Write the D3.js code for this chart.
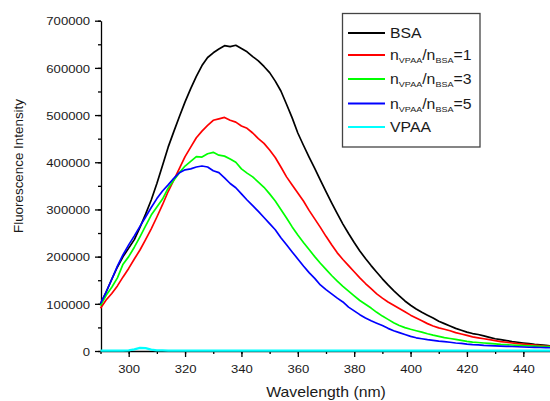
<!DOCTYPE html>
<html>
<head>
<meta charset="utf-8">
<script src="https://cdn.jsdelivr.net/npm/d3@7"></script>
<style>
  body { margin: 0; background: #fff; }
  svg { display: block; font-family: "Liberation Sans", Arial, sans-serif; }
  .axis path, .axis line { stroke: #000; stroke-width: 1.3; }
  .axis text { fill: #1a1a1a; font-size: 11.6px; }
</style>
</head>
<body>
<div id="chart"></div>
<script>
// wavelength grid, 2 nm step
var wavelengths = d3.range(290, 451, 2);

var bsa = [
  99000, 125000, 152000, 178000, 200000, 218000, 236000, 262000, 290000, 320000,
  355000, 393000, 432000, 465000, 497000, 528000, 556000, 582000, 605000, 622000,
  632000, 640000, 647000, 645000, 648000, 641000, 634000, 624000, 615000, 603000,
  590000, 572000, 551000, 523000, 494000, 462000, 436000, 411000, 387000, 362000,
  338000, 314000, 291000, 269000, 249000, 230000, 212000, 196000, 181000, 167000,
  153000, 140000, 128000, 117000, 106000, 97000, 89000, 82000, 76000, 70000,
  63000, 58000, 53000, 48000, 44000, 40000, 37000, 35000, 32000, 29000,
  26000, 24000, 22000, 20000, 18500, 17000, 15500, 14000, 13000, 12000, 10500
];
var ratio1 = [
  90500, 108000, 122000, 138000, 157000, 175000, 195000, 214000, 236000, 259000,
  284000, 310000, 338000, 362000, 387000, 412000, 432000, 452000, 466000, 478000,
  489000, 492000, 495000, 489000, 485000, 477000, 472000, 462000, 450000, 440000,
  426000, 410000, 390000, 369000, 352000, 335000, 318000, 298000, 280000, 262000,
  243000, 225000, 208000, 194000, 181000, 168000, 155000, 143000, 132000, 121000,
  112000, 104000, 97000, 90000, 83000, 76000, 70000, 64000, 58000, 53000,
  49000, 46000, 43000, 39000, 36000, 33000, 30000, 28000, 26000, 24000,
  22000, 20000, 18500, 17000, 15500, 14500, 13500, 12500, 11500, 10500, 9500
];
var ratio3 = [
  96000, 118000, 135000, 155000, 184000, 200000, 220000, 242000, 265000, 288000,
  305000, 322000, 345000, 362000, 378000, 392000, 402000, 412000, 411000, 418000,
  421000, 415000, 413000, 407000, 400000, 386000, 377000, 369000, 358000, 347000,
  333000, 318000, 300000, 282000, 263000, 246000, 230000, 215000, 200000, 186000,
  173000, 160000, 148000, 137000, 127000, 117000, 107000, 99000, 91000, 82000,
  74000, 67000, 60000, 54000, 49500, 46000, 43000, 40000, 36500, 33500,
  31000, 28500, 26500, 24500, 22500, 20500, 19000, 18000, 17000, 16000,
  15000, 14000, 13500, 12700, 12000, 11500, 11000, 10500, 10000, 9500, 9000
];
var ratio5 = [
  101000, 125000, 152000, 180000, 204000, 225000, 244000, 264000, 284000, 304000,
  323000, 339000, 352000, 366000, 378000, 384000, 386000, 390000, 392000, 390000,
  382000, 378000, 367000, 355000, 346000, 333000, 320000, 308000, 296000, 283000,
  270000, 257000, 240000, 225000, 210000, 195000, 180000, 166000, 154000, 140000,
  130000, 121000, 112000, 104000, 93000, 85000, 77000, 70000, 64000, 59000,
  54000, 48000, 43000, 39000, 35000, 31000, 28000, 26000, 24000, 22500,
  21000, 20000, 18500, 17000, 16000, 14500, 13500, 13000, 12000, 11500,
  11000, 10500, 10000, 9500, 9000, 8500, 8000, 7700, 7400, 7000, 6800
];
var vpaa = [
  1000, 1000, 1000, 1000, 1000, 1500, 3500, 6500, 6000, 3000,
  1500, 1200, 1000, 1000, 1000, 1000, 1000, 1000, 1000, 1000,
  1000, 1000, 1000, 1000, 1000, 1000, 1000, 1000, 1000, 1000,
  1000, 1000, 1000, 1000, 1000, 1000, 1000, 1000, 1000, 1000,
  1000, 1000, 1000, 1000, 1000, 1000, 1000, 1000, 1000, 1000,
  1000, 1000, 1000, 1000, 1000, 1000, 1000, 1000, 1000, 1000,
  1000, 1000, 1000, 1000, 1000, 1000, 1000, 1000, 1000, 1000,
  1000, 1000, 1000, 1000, 1000, 1000, 1000, 1000, 1000, 1000, 1000
];

var seriesNames = ["BSA", "ratio1", "ratio3", "ratio5", "VPAA"];
var seriesValues = [bsa, ratio1, ratio3, ratio5, vpaa];
var seriesColors = ["#000000", "#ff0000", "#00ff00", "#0000ff", "#00ffff"];
var legendRatios = ["1", "3", "5"];

var xTicks = [300, 320, 340, 360, 380, 400, 420, 440];
var yTicks = [0, 100000, 200000, 300000, 400000, 500000, 600000, 700000];

var width = 550, height = 401;
var sx = 1.13; // text in the reference is slightly wide

var svg = d3.select("#chart")
  .append("svg")
  .attr("width", width)
  .attr("height", height);

var x = d3.scaleLinear().domain([290, 450]).range([100.5, 551.5]);
var y = d3.scaleLinear().domain([0, 700000]).range([351, 20.7]);

// minor ticks
svg.append("g")
  .attr("class", "axis")
  .attr("transform", "translate(0,351)")
  .call(d3.axisBottom(x).tickValues(d3.range(290, 451, 10)).tickSize(3).tickFormat(""))
  .select(".domain").remove();
svg.append("g")
  .attr("class", "axis")
  .attr("transform", "translate(101,0)")
  .call(d3.axisLeft(y).tickValues(d3.range(0, 700001, 50000)).tickSize(3).tickFormat(""))
  .select(".domain").remove();

// major ticks + labels
var xAxis = svg.append("g")
  .attr("class", "axis")
  .attr("transform", "translate(0,351)")
  .call(d3.axisBottom(x).tickValues(xTicks).tickSize(6).tickSizeOuter(0).tickFormat(d3.format("d")));
xAxis.selectAll("text")
  .attr("y", 22.3)
  .attr("dy", 0)
  .attr("transform", "scale(" + sx + ",1)");

var yAxis = svg.append("g")
  .attr("class", "axis")
  .attr("transform", "translate(101,0)")
  .call(d3.axisLeft(y).tickValues(yTicks).tickSize(6).tickSizeOuter(0).tickFormat(d3.format("d")));
yAxis.selectAll("text")
  .attr("x", -11 / sx)
  .attr("dy", "0.36em")
  .attr("transform", "scale(" + sx + ",1)");

// curves
var line = d3.line()
  .x(function (d) { return x(d[0]); })
  .y(function (d) { return y(d[1]); });

seriesValues.forEach(function (vals, i) {
  var pts = wavelengths.map(function (w, j) { return [w, vals[j]]; });
  svg.append("path")
    .datum(pts)
    .attr("class", "curve " + seriesNames[i])
    .attr("fill", "none")
    .attr("stroke", seriesColors[i])
    .attr("stroke-width", i === 4 ? 2.2 : 1.7)
    .attr("stroke-linejoin", "round")
    .attr("d", line);
});

// axis titles
svg.append("text")
  .attr("transform", "translate(326,396.5) scale(" + sx + ",1)")
  .attr("text-anchor", "middle")
  .style("font-size", "14px")
  .style("fill", "#1a1a1a")
  .text("Wavelength (nm)");

svg.append("text")
  .attr("transform", "translate(23,166) rotate(-90)")
  .attr("text-anchor", "middle")
  .style("font-size", "13.4px")
  .style("fill", "#1a1a1a")
  .text("Fluorescence Intensity");

// legend
var legend = svg.append("g").attr("class", "legend");
legend.append("rect")
  .attr("x", 342.5)
  .attr("y", 13.5)
  .attr("width", 137.5)
  .attr("height", 133.5)
  .attr("fill", "#fff")
  .attr("stroke", "#444")
  .attr("stroke-width", 1.3);

var rowY = [33, 55, 79, 103.5, 127];

seriesNames.forEach(function (name, i) {
  var row = legend.append("g");
  row.append("line")
    .attr("x1", 348).attr("x2", 385)
    .attr("y1", rowY[i]).attr("y2", rowY[i])
    .attr("stroke", seriesColors[i])
    .attr("stroke-width", 1.8);
  var t = row.append("text")
    .attr("transform", "translate(390," + (rowY[i] + 5) + ") scale(" + sx + ",1)")
    .style("font-size", "14px")
    .style("fill", "#1a1a1a");
  if (i === 0 || i === 4) {
    t.text(name);
  } else {
    t.append("tspan").text("n");
    t.append("tspan").attr("dy", 3).style("font-size", "8px").text("VPAA");
    t.append("tspan").attr("dy", -3).text("/n");
    t.append("tspan").attr("dy", 3).style("font-size", "8px").text("BSA");
    t.append("tspan").attr("dy", -3).text("=" + legendRatios[i - 1]);
  }
});
</script>
</body>
</html>
